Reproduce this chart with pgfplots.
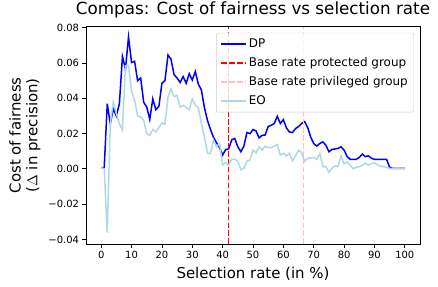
\documentclass[border=0pt]{standalone}
\usepackage{pgfplots}
\pgfplotsset{compat=1.18}
\usepackage{fontspec}
\setmainfont{DejaVu Sans}
\definecolor{mplblue}{HTML}{0000FF}
\definecolor{mpllightblue}{HTML}{ADD8E6}
\definecolor{mplred}{HTML}{FF0000}
\definecolor{mplpink}{HTML}{FFC0CB}
\definecolor{legedge}{HTML}{CCCCCC}
\begin{document}
\begin{tikzpicture}
\useasboundingbox (0,0) rectangle (438bp,287bp);
\begin{axis}[
  at={(86bp,43bp)}, anchor=south west,
  scale only axis, width=334bp, height=217.3bp,
  xmin=-5, xmax=105, ymin=-0.0426, ymax=0.0806,
  xtick={0,10,...,100},
  ytick={-0.04,-0.02,0,0.02,0.04,0.06,0.08},
  yticklabels={−0.04,−0.02,0.00,0.02,0.04,0.06,0.08},
  scaled y ticks=false,
  /pgf/number format/assume math mode=true,
  tick label style={font=\fontsize{10}{12}\selectfont},
  tick align=outside, tick pos=left,
  major tick length=3.5bp,
  every tick/.style={black, line width=0.8bp},
  axis line style={line width=0.8bp},
  title={Compas: Cost of fairness vs selection rate},
  title style={at={(axis description cs:0.5,1)}, anchor=base, yshift=6bp, font=\fontsize{16.8}{19}\selectfont},
  xlabel={Selection rate (in \%)},
  xlabel style={at={(axis description cs:0.5,0)}, anchor=base, yshift=-34bp, font=\fontsize{15}{18}\selectfont},
  ylabel={Cost of fairness\\($\Delta$ in precision)},
  ylabel style={at={(axis description cs:-0.183,0.5)}, anchor=center, align=center, font=\fontsize{15}{17}\selectfont},
  legend style={at={(axis description cs:0.982,0.972)}, anchor=north east,
    draw=legedge, rounded corners=2bp, fill=white, fill opacity=0.8, text opacity=1,
    font=\fontsize{12}{14}\selectfont, row sep=4.5bp, inner sep=4bp},
  legend cell align=left,
  legend image code/.code={\draw[#1] (0bp,0bp) -- (25bp,0bp);},
]
\addplot[mplblue, line width=1.5bp] coordinates {
(0,0.0007)(1,0.0007)(2,0.0369)(3,0.0257)(4,0.034)(5,0.030)(6,0.037)(7,0.0637)(8,0.0566)(9,0.0748)
(10,0.0603)(11,0.061)(12,0.050)(13,0.0515)(14,0.0378)(15,0.035)(16,0.028)(17,0.0397)(18,0.0335)(19,0.0354)
(20,0.0485)(21,0.050)(22,0.0645)(23,0.0622)(24,0.0534)(25,0.0515)(26,0.049)(27,0.0523)(28,0.0485)(29,0.054)
(30,0.0504)(31,0.0552)(32,0.048)(33,0.0448)(34,0.0347)(35,0.0275)(36,0.0223)(37,0.0178)(38,0.0147)(39,0.012)
(40,0.0078)(41,0.011)(42,0.0113)(43,0.0165)(44,0.0172)(45,0.0125)(46,0.0097)(47,0.0129)(48,0.0206)(49,0.020)
(50,0.0223)(51,0.0215)(52,0.0176)(53,0.019)(54,0.0192)(55,0.024)(56,0.0247)(57,0.0257)(58,0.0298)(59,0.0257)
(60,0.0279)(61,0.0232)(62,0.0209)(63,0.0206)(64,0.0228)(65,0.024)(66,0.0257)(67,0.0268)(68,0.0235)(69,0.018)
(70,0.0144)(71,0.0129)(72,0.0144)(73,0.0153)(74,0.0134)(75,0.0097)(76,0.011)(77,0.0113)(78,0.0116)(79,0.0125)
(80,0.0106)(81,0.007)(82,0.0054)(83,0.0054)(84,0.0054)(85,0.0065)(86,0.0084)(87,0.0069)(88,0.0074)(89,0.006)
(90,0.0054)(91,0.0054)(92,0.0054)(93,0.0054)(94,0.0054)(95,0.0009)(96,0.0003)(97,0.0003)(98,0.0003)(99,0.0003)(100,0.0003)
};
\addlegendentry{DP}
\addplot[mplred, line width=1.5bp, dash pattern=on 5.55bp off 2.4bp] coordinates {(42,-0.0426)(42,0.0806)};
\addlegendentry{Base rate protected group}
\addplot[mplpink, line width=1.5bp, dash pattern=on 5.55bp off 2.4bp] coordinates {(66.6,-0.0426)(66.6,0.0806)};
\addlegendentry{Base rate privileged group}
\addplot[mpllightblue, line width=1.5bp] coordinates {
(0,0.0007)(1,0.0)(2,-0.0362)(3,0.0257)(4,0.0378)(5,0.0313)(6,0.0257)(7,0.0219)(8,0.0585)(9,0.0585)
(10,0.044)(11,0.039)(12,0.030)(13,0.0294)(14,0.0275)(15,0.020)(16,0.019)(17,0.0223)(18,0.0209)(19,0.0234)
(20,0.026)(21,0.0253)(22,0.0406)(23,0.0453)(24,0.041)(25,0.0416)(26,0.035)(27,0.036)(28,0.0347)(29,0.0335)
(30,0.0397)(31,0.036)(32,0.0347)(33,0.0257)(34,0.0181)(35,0.0088)(36,0.0088)(37,0.0163)(38,0.0125)(39,0.0144)
(40,0.0022)(41,0.0035)(42,0.0022)(43,0.0054)(44,0.0054)(45,0.0044)(46,-0.0005)(47,0.0003)(48,0.0044)(49,0.005)
(50,0.0106)(51,0.0091)(52,0.0125)(53,0.0106)(54,0.0129)(55,0.012)(56,0.012)(57,0.0129)(58,0.0138)(59,0.0078)
(60,0.0088)(61,0.0073)(62,0.0088)(63,0.0046)(64,0.0073)(65,0.0106)(66,0.0091)(67,0.0044)(68,0.006)(69,0.0062)
(70,0.0065)(71,0.0054)(72,0.0088)(73,0.0012)(74,0.0012)(75,-0.0021)(76,0.0003)(77,0.0016)(78,0.0016)(79,0.0073)
(80,0.0028)(81,0.004)(82,0.002)(83,0.0)(84,0.0009)(85,0.0012)(86,0.002)(87,0.0032)(88,0.0022)(89,0.003)
(90,0.0035)(91,0.0022)(92,0.0015)(93,0.0012)(94,0.0008)(95,0.0003)(96,0.0003)(97,0.0003)(98,0.0003)(99,0.0003)(100,0.0003)
};
\addlegendentry{EO}
\end{axis}
\end{tikzpicture}
\end{document}
